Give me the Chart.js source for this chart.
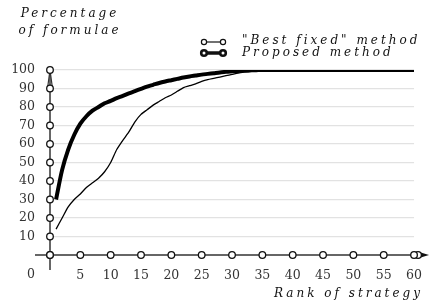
<!DOCTYPE html>
<html>
<head>
<meta charset="utf-8">
<script src="https://cdn.jsdelivr.net/npm/chart.js@4.4.1/dist/chart.umd.min.js"></script>
<style>
  html, body { margin: 0; padding: 0; background: #fff; }
</style>
</head>
<body>
<canvas id="chart" width="435" height="300"></canvas>
<script>
// -- Data --
const ranks = [1, 2, 3, 4, 5, 6, 7, 8, 9, 10, 11, 12, 13, 14, 15, 16, 17, 18, 19, 20,
  21, 22, 23, 24, 25, 26, 27, 28, 29, 30, 31, 32, 33, 34, 35, 36, 37, 38, 39, 40,
  41, 42, 43, 44, 45, 46, 47, 48, 49, 50, 51, 52, 53, 54, 55, 56, 57, 58, 59, 60];

const bestFixed = [14, 20, 26, 30, 33, 36.5, 39, 41.5, 45, 50, 57, 62, 66.5, 72, 76, 78.5, 81, 83, 85, 86.5,
  88.5, 90.5, 91.5, 92.5, 93.8, 94.8, 95.5, 96.2, 96.9, 97.6, 98.3, 98.8, 99.2, 99.5, 99.7, 99.9, 100, 100, 100, 100,
  100, 100, 100, 100, 100, 100, 100, 100, 100, 100, 100, 100, 100, 100, 100, 100, 100, 100, 100, 100];

const proposed = [30, 46, 57, 65, 71, 75, 78, 80, 82, 83.3, 84.8, 86, 87.4, 88.6, 89.8, 91, 92, 93, 93.8, 94.5,
  95.2, 95.9, 96.5, 97, 97.5, 97.9, 98.3, 98.7, 99, 99.3, 99.5, 99.7, 99.8, 99.9, 100, 100, 100, 100, 100, 100,
  100, 100, 100, 100, 100, 100, 100, 100, 100, 100, 100, 100, 100, 100, 100, 100, 100, 100, 100, 100];

const xTickValues = [5, 10, 15, 20, 25, 30, 35, 40, 45, 50, 55, 60];
const yTickValues = [10, 20, 30, 40, 50, 60, 70, 80, 90, 100];

const seriesNames = ['"Best fixed" method', 'Proposed method'];
const yTitle = ['Percentage', 'of formulae'];
const xTitle = 'Rank of strategy';

const serif = '"DejaVu Serif", serif';
const inkColor = '#333';

// -- Axes with circle markers, arrow heads, titles and legend --
const decorPlugin = {
  id: 'decor',
  afterDatasetsDraw(chart) {
    const { ctx, scales: { x, y } } = chart;
    const x0 = x.getPixelForValue(0);
    const y0 = y.getPixelForValue(0);
    const xEnd = x.getPixelForValue(60);
    const yTop = y.getPixelForValue(100);
    const y90 = y.getPixelForValue(90);

    ctx.save();
    ctx.strokeStyle = inkColor;
    ctx.lineWidth = 1.5;

    // x axis
    ctx.beginPath();
    ctx.moveTo(x0 - 15, y0);
    ctx.lineTo(xEnd + 10, y0);
    ctx.stroke();
    ctx.fillStyle = '#111';
    ctx.beginPath();
    ctx.moveTo(xEnd + 15, y0);
    ctx.lineTo(xEnd + 5, y0 - 3);
    ctx.lineTo(xEnd + 5, y0 + 3);
    ctx.closePath();
    ctx.fill();

    // y axis
    ctx.beginPath();
    ctx.moveTo(x0, y0 + 15);
    ctx.lineTo(x0, yTop);
    ctx.stroke();
    ctx.lineWidth = 1.2;
    ctx.beginPath();
    ctx.moveTo(x0 - 2.5, y90);
    ctx.lineTo(x0, yTop);
    ctx.lineTo(x0 + 2.5, y90);
    ctx.stroke();

    // markers
    const dot = (px, py) => {
      ctx.beginPath();
      ctx.arc(px, py, 3.3, 0, Math.PI * 2);
      ctx.fillStyle = '#fff';
      ctx.fill();
      ctx.lineWidth = 1.3;
      ctx.strokeStyle = '#111';
      ctx.stroke();
    };
    dot(xEnd + 4, y0);
    [0].concat(xTickValues).forEach(v => dot(x.getPixelForValue(v), y0));
    [0].concat(yTickValues).forEach(v => dot(x0, y.getPixelForValue(v)));

    // lone zero label
    ctx.fillStyle = inkColor;
    ctx.font = '12.5px ' + serif;
    ctx.textAlign = 'center';
    ctx.textBaseline = 'middle';
    ctx.fillText('0', x0 - 19, y0 + 20);

    // titles
    ctx.fillStyle = '#111';
    ctx.font = 'italic 12px ' + serif;
    ctx.letterSpacing = '3px';
    ctx.textAlign = 'center';
    ctx.fillText(yTitle[0], 70, 14);
    ctx.fillText(yTitle[1], 70, 31);
    ctx.textAlign = 'right';
    ctx.fillText(xTitle, 423, 294);

    // legend
    ctx.textAlign = 'left';
    ctx.fillText(seriesNames[0], 242, 41);
    ctx.fillText(seriesNames[1], 242, 53);
    ctx.letterSpacing = '0px';

    const legendIcon = (ly, lw, r, sw) => {
      ctx.strokeStyle = '#111';
      ctx.lineWidth = lw;
      ctx.beginPath();
      ctx.moveTo(204, ly);
      ctx.lineTo(223, ly);
      ctx.stroke();
      [204, 223].forEach(cx => {
        ctx.beginPath();
        ctx.arc(cx, ly, r, 0, Math.PI * 2);
        ctx.fillStyle = '#fff';
        ctx.fill();
        ctx.lineWidth = sw;
        ctx.stroke();
      });
    };
    legendIcon(42, 1.2, 2.6, 1.2);
    legendIcon(53, 3.5, 2.8, 2.6);

    ctx.restore();
  }
};

const ctx = document.getElementById('chart');
new Chart(ctx, {
  type: 'line',
  data: {
    datasets: [
      {
        label: seriesNames[0],
        data: ranks.map((r, i) => ({ x: r, y: bestFixed[i] })),
        borderColor: '#000',
        borderWidth: 1.3,
        pointRadius: 0,
        tension: 0.2,
        fill: false
      },
      {
        label: seriesNames[1],
        data: ranks.map((r, i) => ({ x: r, y: proposed[i] })),
        borderColor: '#000',
        borderWidth: 4,
        pointRadius: 0,
        tension: 0.3,
        fill: false
      }
    ]
  },
  options: {
    responsive: false,
    animation: false,
    layout: { padding: { left: 0, right: 16, top: 70, bottom: 0 } },
    scales: {
      x: {
        type: 'linear',
        min: 0,
        max: 60,
        afterBuildTicks: s => { s.ticks = xTickValues.map(v => ({ value: v })); },
        afterFit: s => { s.height = 45; },
        grid: { display: false, drawTicks: false },
        border: { display: false },
        ticks: { color: inkColor, font: { family: serif, size: 12.5 }, padding: 13, maxRotation: 0 }
      },
      y: {
        min: 0,
        max: 100,
        afterBuildTicks: s => { s.ticks = yTickValues.map(v => ({ value: v })); },
        afterFit: s => { s.width = 50; },
        grid: { color: '#e2e2e2', lineWidth: 1.2, drawTicks: false },
        border: { display: false },
        ticks: { color: inkColor, font: { family: serif, size: 12.5 }, padding: 15 }
      }
    },
    plugins: {
      legend: { display: false },
      tooltip: { enabled: false }
    }
  },
  plugins: [decorPlugin]
});
</script>
</body>
</html>
